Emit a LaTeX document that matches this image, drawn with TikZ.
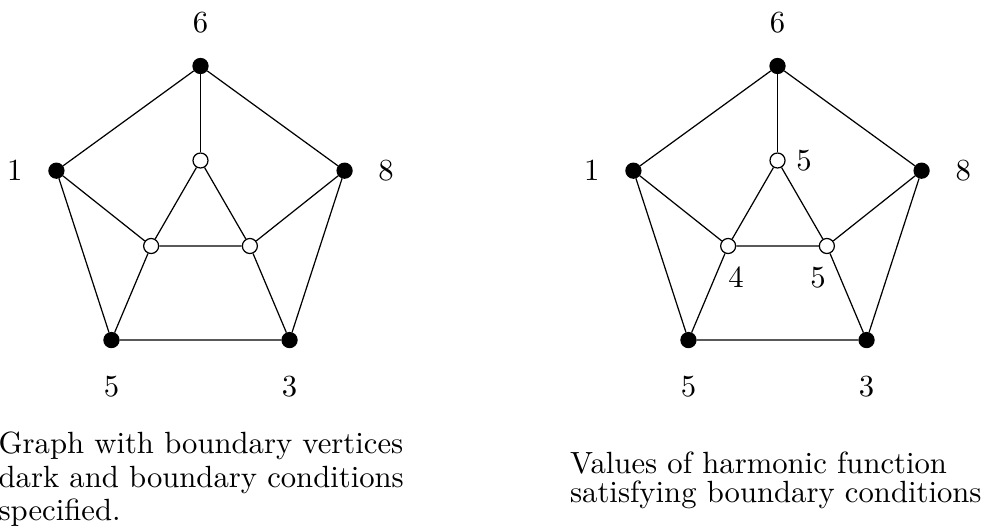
\documentclass[tikz,border=0pt]{standalone}
\usetikzlibrary{positioning}
\tikzset{
  bnd/.style={circle, fill=black, draw=black, line width=0.4pt, inner sep=0pt, minimum size=4.9pt},
  inr/.style={circle, fill=white, draw=black, line width=0.4pt, inner sep=0pt, minimum size=4.9pt},
  ln/.style={line width=0.4pt, draw=black},
  val/.style={inner sep=0pt},
  capt/.style={inner sep=0pt, align=left, anchor=north west},
}

\begin{document}
\begin{tikzpicture}[x=0.326pt, y=0.326pt]
\useasboundingbox (-201,217.5) rectangle (788,-313.5);

% ---------------- the two copies of the graph ----------------
\foreach \g/\dx in {L/-0.5, R/576.5} {
\begin{scope}[shift={(\dx,0)}]
  % boundary vertices (dark)
  \node[bnd] (\g-6) at (90:151.5) {};
  \node[bnd] (\g-8) at (18:151.5) {};
  \node[bnd] (\g-3) at (-54:151.5) {};
  \node[bnd] (\g-5) at (-126:151.5) {};
  \node[bnd] (\g-1) at (162:151.5) {};
  % interior vertices (open)
  \node[inr] (\g-a) at (90:57) {};
  \node[inr] (\g-b) at (210:57) {};
  \node[inr] (\g-c) at (330:57) {};
  % edges
  \draw[ln] (\g-6) -- (\g-1) -- (\g-5) -- (\g-3) -- (\g-8) -- (\g-6);
  \draw[ln] (\g-a) -- (\g-b) -- (\g-c) -- (\g-a);
  \draw[ln] (\g-6) -- (\g-a);
  \draw[ln] (\g-1) -- (\g-b);
  \draw[ln] (\g-5) -- (\g-b);
  \draw[ln] (\g-8) -- (\g-c);
  \draw[ln] (\g-3) -- (\g-c);
  % boundary conditions
  \node[val, above=8pt of \g-6] (\g-v6) {6};
  \node[val, left=8.2pt of \g-1] (\g-v1) {1};
  \node[val, right=8.2pt of \g-8] (\g-v8) {8};
  \node[val, below=8.8pt of \g-5] (\g-v5) {5};
  \node[val, below=8.8pt of \g-3] (\g-v3) {3};
\end{scope}
}

% ---------------- harmonic values (right graph) ----------------
\node[val, right=3.3pt of R-a] (R-va) {5};
\node[val, below=3.9pt of R-b, xshift=2.6pt] (R-vb) {4};
\node[val, below=3.9pt of R-c, xshift=-2.9pt] (R-vc) {5};

% ---------------- captions ----------------
\node[capt, font=\fontsize{10}{10.9}\selectfont] (capL) at (-203,-214.2)
  {Graph with boundary vertices\\dark and boundary conditions\\specified.};
\node[capt, font=\fontsize{10}{9.4}\selectfont] (capR) at (368.5,-234.2)
  {Values of harmonic function\\satisfying boundary conditions};

\end{tikzpicture}
\end{document}
